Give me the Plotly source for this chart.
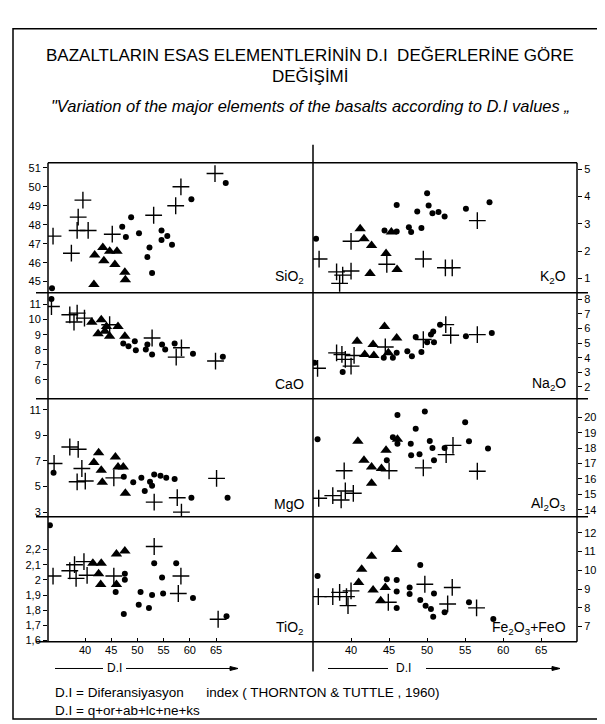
import plotly.graph_objects as go

W, H = 605, 724

# ---------------- DATA ----------------
# Left column (x = D.I, left-panel axis)
sio2_cross_di = [33.9, 37.4, 39.6, 38.7, 38.5, 40.6, 45.2, 53.1, 57.3, 58.3, 64.8]
sio2_cross = [47.4, 46.5, 49.3, 48.4, 47.7, 47.7, 47.5, 48.5, 49.0, 50.0, 50.7]
sio2_dot_di = [33.7, 47.1, 48.8, 47.8, 50.3, 54.6, 55.7, 54.6, 56.6, 52.3, 51.9, 52.8, 60.3, 66.85]
sio2_dot = [44.65, 47.9, 48.4, 47.35, 47.55, 47.7, 47.4, 47.2, 46.95, 46.8, 46.3, 45.45, 49.35, 50.2]
sio2_tri_di = [41.85, 43.4, 43.6, 44.7, 46.1, 45.7, 47.6, 47.7, 41.7]
sio2_tri = [46.4, 46.8, 46.1, 46.6, 46.6, 45.9, 45.5, 45.1, 44.85]

cao_cross_di = [33.6, 37.1, 38.5, 37.9, 39.9, 44.7, 52.8, 58.4, 57.4, 64.9]
cao_cross = [10.87, 10.32, 10.43, 9.84, 10.1, 9.66, 8.78, 8.13, 7.51, 7.25]
cao_dot_di = [33.6, 47.3, 48.3, 49.5, 49.7, 51.6, 51.9, 52.8, 54.7, 55.3, 57.1, 60.6, 66.3]
cao_dot = [11.37, 8.41, 8.24, 8.57, 7.97, 8.02, 8.35, 7.69, 8.35, 8.02, 8.41, 7.73, 7.53]
cao_tri_di = [41.3, 43.1, 42.5, 43.8, 44.7, 46.3, 47.6, 44.1]
cao_tri = [9.82, 9.99, 9.07, 9.22, 8.89, 9.55, 8.89, 9.55]

mgo_cross_di = [34.1, 37.1, 38.7, 39.4, 38.5, 40.05, 45.5, 53.2, 57.6, 58.4, 65.1]
mgo_cross = [6.8, 8.09, 7.91, 6.41, 5.37, 5.43, 5.68, 3.78, 4.13, 3.0, 5.64]
mgo_dot_di = [34.0, 47.4, 49.2, 50.75, 51.4, 52.4, 52.8, 53.2, 54.4, 55.5, 57.1, 60.3, 67.2]
mgo_dot = [6.07, 5.76, 5.33, 5.68, 4.65, 5.37, 5.06, 5.95, 5.84, 5.68, 5.58, 4.13, 4.13]
mgo_tri_di = [42.6, 41.7, 43.1, 43.3, 45.8, 46.3, 47.3, 47.7]
mgo_tri = [7.65, 6.88, 6.28, 5.33, 7.31, 6.53, 6.53, 4.47]

tio2_cross_di = [33.9, 37.1, 38.3, 38.0, 39.8, 40.4, 45.5, 53.2, 58.3, 57.8, 65.4]
tio2_cross = [2.025, 2.06, 2.01, 2.10, 2.12, 2.03, 2.025, 2.22, 2.025, 1.91, 1.74]
tio2_dot_di = [33.3, 47.6, 47.6, 53.2, 54.7, 57.4, 45.85, 50.6, 52.8, 54.9, 60.6, 47.4, 50.25, 52.2, 67.0]
tio2_dot = [2.36, 2.04, 2.0, 2.11, 2.015, 2.11, 1.92, 1.92, 1.90, 1.91, 1.88, 1.775, 1.836, 1.815, 1.76]
tio2_tri_di = [41.5, 43.1, 42.6, 43.0, 46.0, 47.6, 46.0]
tio2_tri = [2.11, 2.11, 2.04, 1.97, 2.17, 2.19, 1.97]

# Right column (x = D.I, right-panel axis)
k2o_cross_di = [35.8, 38.1, 38.9, 38.5, 40.0, 40.0, 44.7, 49.5, 52.4, 53.3, 56.6]
k2o_cross = [1.71, 1.24, 1.12, 0.82, 1.27, 2.36, 1.52, 1.71, 1.39, 1.39, 3.12]
k2o_dot_di = [35.4, 44.4, 46.0, 46.0, 47.6, 47.9, 49.25, 48.7, 50.0, 50.2, 50.7, 51.5, 52.3, 55.1, 58.2]
k2o_dot = [2.45, 2.76, 2.72, 3.69, 2.88, 2.70, 2.85, 3.45, 4.12, 3.67, 3.39, 3.43, 3.27, 3.55, 3.79]
k2o_tri_di = [41.2, 41.7, 42.7, 42.5, 44.6, 45.3, 46.05]
k2o_tri = [2.82, 2.45, 2.21, 1.18, 1.91, 2.70, 1.33]

na2o_cross_di = [35.6, 38.1, 38.8, 39.25, 40.0, 40.4, 44.5, 49.5, 52.45, 53.1, 56.6]
na2o_cross = [3.27, 4.33, 4.22, 3.88, 3.42, 4.15, 4.73, 5.24, 6.26, 5.53, 5.58]
na2o_dot_di = [35.2, 38.9, 44.3, 45.5, 46.0, 47.4, 48.0, 49.25, 48.5, 50.0, 50.5, 50.8, 50.9, 51.7, 55.1, 58.5]
na2o_dot = [3.65, 3.01, 3.99, 3.99, 4.33, 4.44, 4.1, 4.39, 5.41, 5.05, 5.58, 5.8, 5.05, 6.26, 5.46, 5.69]
na2o_tri_di = [40.8, 41.8, 42.9, 43.0, 44.4, 44.9, 46.0]
na2o_tri = [5.12, 4.22, 4.9, 4.15, 6.14, 4.33, 5.35]

al2o3_cross_di = [35.75, 37.6, 38.7, 39.25, 40.3, 39.1, 45.0, 49.5, 52.5, 53.4, 56.6]
al2o3_cross = [14.75, 14.92, 14.64, 15.22, 15.07, 16.53, 16.53, 16.72, 17.58, 18.18, 16.5]
al2o3_dot_di = [35.6, 44.7, 45.5, 46.1, 47.9, 47.85, 49.0, 50.35, 50.7, 50.9, 52.3, 55.5, 58.0, 46.1, 49.7, 48.5, 55.0]
al2o3_dot = [18.57, 17.22, 18.71, 18.29, 17.54, 18.29, 17.6, 18.46, 18.0, 17.22, 18.0, 18.44, 17.97, 20.15, 20.37, 19.25, 19.68]
al2o3_tri_di = [40.9, 41.7, 42.7, 42.7, 44.0, 44.6, 46.1]
al2o3_tri = [18.44, 17.22, 16.78, 15.72, 16.68, 17.86, 18.57]

fe_cross_di = [35.7, 37.6, 38.5, 39.4, 39.6, 40.0, 44.9, 49.7, 53.3, 52.7, 56.5]
fe_cross = [8.6, 8.6, 8.83, 8.6, 8.12, 8.91, 8.3, 9.26, 9.09, 8.21, 8.0]
fe_dot_di = [35.6, 49.1, 44.7, 46.0, 46.0, 47.7, 47.7, 50.9, 46.0, 49.1, 49.8, 50.5, 50.8, 52.3, 55.5, 58.7]
fe_dot = [9.7, 10.29, 9.53, 9.49, 8.88, 9.09, 8.74, 8.77, 8.0, 8.42, 8.12, 7.94, 7.53, 7.77, 8.3, 7.41]
fe_tri_di = [46.0, 42.7, 41.4, 41.0, 42.9, 44.5, 43.9]
fe_tri = [11.12, 10.76, 10.06, 9.35, 8.95, 9.09, 8.38]

# Axis ticks and labels
di_ticks = [40, 45, 50, 55, 60, 65]
sio2_ticks = [45, 46, 47, 48, 49, 50, 51]
cao_ticks = [6, 7, 8, 9, 10, 11]
mgo_ticks = [3, 5, 7, 9, 11]
tio2_ticks = [1.6, 1.7, 1.8, 1.9, 2.0, 2.1, 2.2]
tio2_ticktext = ["1,6", "1,7", "1,8", "1,9", "2", "2,1", "2,2"]
k2o_ticks = [1, 2, 3, 4, 5]
na2o_ticks = [2, 3, 4, 5, 6, 7, 8]
al2o3_ticks = [14, 15, 16, 17, 18, 19, 20]
fe_ticks = [7, 8, 9, 10, 11, 12]

panel_names = ["SiO<sub>2</sub>", "K<sub>2</sub>O", "CaO", "Na<sub>2</sub>O",
               "MgO", "Al<sub>2</sub>O<sub>3</sub>", "TiO<sub>2</sub>", "Fe<sub>2</sub>O<sub>3</sub>+FeO"]

title_1 = "BAZALTLARIN ESAS ELEMENTLERİNİN D.I  DEĞERLERİNE GÖRE"
title_2 = "DEĞİŞİMİ"
subtitle = "\"Variation of the major elements of the basalts according to D.I values \u201e"
note_1 = "D.I = Diferansiyasyon      index ( THORNTON & TUTTLE , 1960)"
note_2 = "D.I = q+or+ab+lc+ne+ks"

# ---------------- LAYOUT GEOMETRY (pixels) ----------------
X_L0, X_MID, X_R1 = 40, 305, 569
ROWS = [(155, 286), (286, 393), (393, 512), (512, 638)]

def px(x):
    return x / W

def py(y):
    return 1 - y / H

panels = [
    (sio2_cross_di, sio2_cross, sio2_dot_di, sio2_dot, sio2_tri_di, sio2_tri, [44.42, 51.27], sio2_ticks, None),
    (k2o_cross_di, k2o_cross, k2o_dot_di, k2o_dot, k2o_tri_di, k2o_tri, [0.48, 5.24], k2o_ticks, None),
    (cao_cross_di, cao_cross, cao_dot_di, cao_dot, cao_tri_di, cao_tri, [4.75, 11.79], cao_ticks, None),
    (na2o_cross_di, na2o_cross, na2o_dot_di, na2o_dot, na2o_tri_di, na2o_tri, [1.185, 8.455], na2o_ticks, None),
    (mgo_cross_di, mgo_cross, mgo_dot_di, mgo_dot, mgo_tri_di, mgo_tri, [2.64, 11.86], mgo_ticks, None),
    (al2o3_cross_di, al2o3_cross, al2o3_dot_di, al2o3_dot, al2o3_tri_di, al2o3_tri, [13.55, 21.2], al2o3_ticks, None),
    (tio2_cross_di, tio2_cross, tio2_dot_di, tio2_dot, tio2_tri_di, tio2_tri, [1.592, 2.416], tio2_ticks, tio2_ticktext),
    (fe_cross_di, fe_cross, fe_dot_di, fe_dot, fe_tri_di, fe_tri, [6.196, 12.86], fe_ticks, None),
]

XR_LEFT = [32.94, 83.5]
XR_RIGHT = [35.0, 69.7]

fig = go.Figure()
layout = dict(width=W, height=H, margin=dict(l=0, r=0, t=0, b=0),
              paper_bgcolor="white", plot_bgcolor="white", showlegend=False)

tick_font = dict(family="Liberation Sans Narrow, Liberation Sans, Arial", size=11, color="black")

for k, p in enumerate(panels):
    r, s = divmod(k, 2)
    idx = k + 1
    xa = "x" if idx == 1 else f"x{idx}"
    ya = "y" if idx == 1 else f"y{idx}"
    cx, cy, dx, dy, tx, ty, yr, yt, ytt = p
    fig.add_trace(go.Scatter(x=cx, y=cy, mode="markers", xaxis=xa, yaxis=ya,
                             marker=dict(symbol="cross-thin", size=12, color="black",
                                         line=dict(width=1.4, color="black"))))
    fig.add_trace(go.Scatter(x=dx, y=dy, mode="markers", xaxis=xa, yaxis=ya,
                             marker=dict(symbol="circle", size=6, color="black")))
    fig.add_trace(go.Scatter(x=tx, y=ty, mode="markers", xaxis=xa, yaxis=ya,
                             marker=dict(symbol="triangle-up", size=10, color="black")))
    top, bot = ROWS[r]
    if s == 0:
        xdom = [px(X_L0), px(X_MID)]
        xr = XR_LEFT
    else:
        xdom = [px(X_MID), px(X_R1)]
        xr = XR_RIGHT
    bottom_row = (r == 3)
    xkey = "xaxis" if idx == 1 else f"xaxis{idx}"
    ykey = "yaxis" if idx == 1 else f"yaxis{idx}"
    xdict = dict(domain=xdom, range=xr, anchor=ya, showgrid=False, zeroline=False,
                 showline=False, showticklabels=bottom_row, tickfont=tick_font)
    if bottom_row:
        xdict.update(tickvals=di_ticks, ticks="inside", ticklen=4, tickcolor="black")
    else:
        xdict.update(showticklabels=False, ticks="")
    layout[xkey] = xdict
    ydict = dict(domain=[py(bot), py(top)], range=yr, anchor=xa, showgrid=False,
                 zeroline=False, showline=False, tickvals=yt, ticks="outside", ticklen=4,
                 tickcolor="black", tickfont=tick_font, side="left" if s == 0 else "right")
    if ytt is not None:
        ydict["ticktext"] = ytt
    layout[ykey] = ydict

fig.update_layout(**layout)

# ---------------- frame and divider lines ----------------
line = dict(color="black", width=1.5)
thin = dict(color="black", width=1)
shapes = [
    dict(type="rect", xref="paper", yref="paper", x0=px(5), x1=px(602), y0=py(716), y1=py(20),
         line=dict(color="black", width=1.5)),
    dict(type="line", xref="paper", yref="paper", x0=px(X_L0), x1=px(X_R1), y0=py(155), y1=py(155), line=line),
    dict(type="line", xref="paper", yref="paper", x0=px(28), x1=px(580), y0=py(286), y1=py(286), line=line),
    dict(type="line", xref="paper", yref="paper", x0=px(28), x1=px(580), y0=py(393), y1=py(393), line=line),
    dict(type="line", xref="paper", yref="paper", x0=px(28), x1=px(580), y0=py(512), y1=py(512), line=line),
    dict(type="line", xref="paper", yref="paper", x0=px(28), x1=px(X_R1), y0=py(638), y1=py(638), line=line),
    dict(type="line", xref="paper", yref="paper", x0=px(X_L0), x1=px(X_L0), y0=py(638), y1=py(155), line=line),
    dict(type="line", xref="paper", yref="paper", x0=px(X_R1), x1=px(X_R1), y0=py(638), y1=py(155), line=line),
    dict(type="line", xref="paper", yref="paper", x0=px(X_MID), x1=px(X_MID), y0=py(668), y1=py(137), line=line),
    # D.I arrows
    dict(type="line", xref="paper", yref="paper", x0=px(47), x1=px(95), y0=py(665), y1=py(665), line=thin),
    dict(type="line", xref="paper", yref="paper", x0=px(118), x1=px(224), y0=py(665), y1=py(665), line=thin),
    dict(type="path", xref="paper", yref="paper",
         path=f"M {px(222)} {py(663)} L {px(230)} {py(665)} L {px(222)} {py(667)} Z",
         fillcolor="black", line=thin),
    dict(type="line", xref="paper", yref="paper", x0=px(320), x1=px(380), y0=py(665), y1=py(665), line=thin),
    dict(type="line", xref="paper", yref="paper", x0=px(418), x1=px(546), y0=py(665), y1=py(665), line=thin),
    dict(type="path", xref="paper", yref="paper",
         path=f"M {px(544)} {py(663)} L {px(552)} {py(665)} L {px(544)} {py(667)} Z",
         fillcolor="black", line=thin),
]
fig.update_layout(shapes=shapes)

# ---------------- texts ----------------
label_font = dict(family="Liberation Sans, Arial", size=14, color="black")
label_pos = [(298, 270), (560, 270), (298, 378), (560, 378), (298, 499), (560, 499), (298, 624), (560, 624)]
ann = []
for name, (lx, ly) in zip(panel_names, label_pos):
    ann.append(dict(xref="paper", yref="paper", x=px(lx), y=py(ly), text=name, showarrow=False,
                    xanchor="right", yanchor="middle", font=label_font))

ann += [
    dict(xref="paper", yref="paper", x=px(302), y=py(47), text=title_1, showarrow=False,
         xanchor="center", yanchor="middle",
         font=dict(family="Liberation Sans, Arial", size=17, color="black")),
    dict(xref="paper", yref="paper", x=px(302), y=py(68), text=title_2, showarrow=False,
         xanchor="center", yanchor="middle",
         font=dict(family="Liberation Sans, Arial", size=17, color="black")),
    dict(xref="paper", yref="paper", x=px(302), y=py(98), text="<i>" + subtitle + "</i>", showarrow=False,
         xanchor="center", yanchor="middle",
         font=dict(family="Liberation Sans, Arial", size=16.5, color="black")),
    dict(xref="paper", yref="paper", x=px(106), y=py(665), text="D.I", showarrow=False,
         xanchor="center", yanchor="middle", font=dict(family="Liberation Sans, Arial", size=12, color="black")),
    dict(xref="paper", yref="paper", x=px(395), y=py(665), text="D.I", showarrow=False,
         xanchor="center", yanchor="middle", font=dict(family="Liberation Sans, Arial", size=12, color="black")),
    dict(xref="paper", yref="paper", x=px(45), y=py(689), text=note_1, showarrow=False,
         xanchor="left", yanchor="middle", font=dict(family="Liberation Sans, Arial", size=13.5, color="black")),
    dict(xref="paper", yref="paper", x=px(45), y=py(707), text=note_2, showarrow=False,
         xanchor="left", yanchor="middle", font=dict(family="Liberation Sans, Arial", size=13.5, color="black")),
]
fig.update_layout(annotations=ann)

fig.write_html("out.html")
